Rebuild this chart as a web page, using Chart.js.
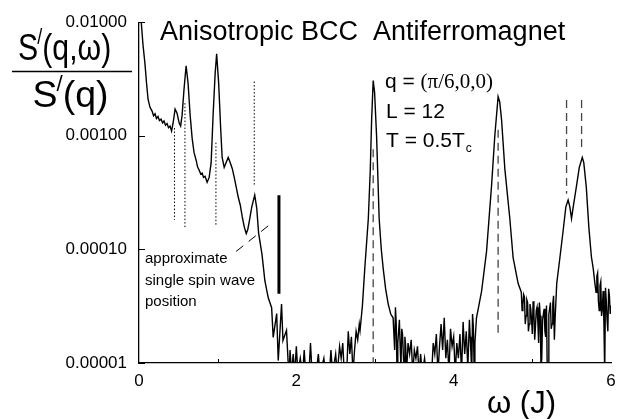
<!DOCTYPE html>
<html>
<head>
<meta charset="utf-8">
<script src="https://cdn.jsdelivr.net/npm/chart.js@4.4.1/dist/chart.umd.min.js"></script>
<style>
  html, body { margin: 0; padding: 0; background: #fff; }
  #wrap { width: 625px; height: 419px; }
</style>
</head>
<body>
<div id="wrap"><canvas id="spectrum"></canvas></div>
<script>
// spectrum S'(q,w)/S'(q) (values under 1e-5 sit on the bottom axis)
const omega = [
  0.02, 0.05, 0.076, 0.096, 0.115, 0.14, 0.166, 0.185, 0.204, 0.222, 0.242, 0.26, 0.28, 0.30, 0.318, 0.337,
  0.357, 0.375, 0.395, 0.414, 0.433, 0.459, 0.484, 0.51, 0.529, 0.548, 0.573, 0.599, 0.624, 0.65, 0.675, 0.70,
  0.726, 0.745, 0.764, 0.785, 0.803, 0.82, 0.84, 0.866, 0.892, 0.917, 0.943, 0.968, 0.987, 1.013, 1.038, 1.057,
  1.083, 1.108, 1.134, 1.159, 1.185, 1.21, 1.236, 1.261, 1.287, 1.312, 1.338, 1.363, 1.382, 1.401, 1.433, 1.471,
  1.497, 1.52, 1.563, 1.583, 1.60, 1.643, 1.686, 1.706, 1.75, 1.77, 1.812, 1.83, 1.875, 1.895, 1.91, 1.92,
  1.94, 1.96, 1.98, 2.00, 2.02, 2.05, 2.08, 2.10, 2.12, 2.16, 2.18, 2.20, 2.25, 2.28, 2.30, 2.35,
  2.37, 2.42, 2.44, 2.46, 2.50, 2.52, 2.55, 2.57, 2.59, 2.61, 2.64, 2.66, 2.68, 2.70, 2.72, 2.74,
  2.76, 2.78, 2.80, 2.81, 2.84, 2.87, 2.915, 2.94, 2.957, 2.977, 2.995, 3.02, 3.053, 3.08, 3.104, 3.135,
  3.168, 3.20, 3.23, 3.25, 3.26, 3.27, 3.28, 3.29, 3.30, 3.31, 3.32, 3.33, 3.34, 3.35, 3.36, 3.37,
  3.38, 3.39, 3.40, 3.42, 3.44, 3.46, 3.48, 3.50, 3.52, 3.54, 3.56, 3.58, 3.60, 3.63, 3.65, 3.70,
  3.72, 3.74, 3.76, 3.78, 3.80, 3.82, 3.84, 3.86, 3.88, 3.90, 3.92, 3.94, 3.96, 3.98, 4.00, 4.02,
  4.04, 4.06, 4.08, 4.10, 4.12, 4.14, 4.16, 4.18, 4.20, 4.21, 4.22, 4.23, 4.24, 4.25, 4.26, 4.27,
  4.29, 4.32, 4.355, 4.418, 4.482, 4.523, 4.565, 4.585, 4.609, 4.651, 4.714, 4.756, 4.82, 4.86, 4.87, 4.88,
  4.89, 4.90, 4.91, 4.92, 4.93, 4.94, 4.95, 4.96, 4.97, 4.98, 4.99, 5.00, 5.01, 5.02, 5.03, 5.04,
  5.05, 5.06, 5.07, 5.08, 5.09, 5.10, 5.11, 5.12, 5.13, 5.14, 5.15, 5.16, 5.17, 5.18, 5.19, 5.20,
  5.21, 5.22, 5.23, 5.24, 5.25, 5.26, 5.27, 5.28, 5.29, 5.31, 5.35, 5.39, 5.426, 5.455, 5.477, 5.498,
  5.52, 5.559, 5.597, 5.635, 5.654, 5.686, 5.718, 5.75, 5.775, 5.794, 5.81, 5.82, 5.83, 5.84, 5.85, 5.86,
  5.87, 5.88, 5.89, 5.90, 5.91, 5.92, 5.93, 5.94, 5.95, 5.96, 5.97, 5.98, 5.99, 6.00
];
const intensity = [
  1.2e-2, 6.4e-3, 4.3e-3, 2.9e-3, 2.1e-3, 1.78e-3, 1.65e-3, 1.50e-3, 1.56e-3, 1.42e-3, 1.48e-3, 1.36e-3, 1.40e-3, 1.30e-3, 1.35e-3, 1.24e-3,
  1.28e-3, 1.18e-3, 1.22e-3, 1.10e-3, 1.29e-3, 1.72e-3, 1.58e-3, 1.30e-3, 1.22e-3, 1.52e-3, 2.61e-3, 4.14e-3, 2.89e-3, 1.52e-3, 9.6e-4, 7.1e-4,
  6.1e-4, 5.3e-4, 5.0e-4, 4.6e-4, 4.7e-4, 4.3e-4, 4.4e-4, 3.9e-4, 4.3e-4, 5.8e-4, 1.58e-3, 3.53e-3, 5.27e-3, 2.88e-3, 1.17e-3, 6.45e-4,
  5.27e-4, 5.82e-4, 6.45e-4, 5.82e-4, 5.16e-4, 4.32e-4, 3.53e-4, 2.89e-4, 2.46e-4, 1.94e-4, 1.58e-4, 1.38e-4, 1.49e-4, 1.75e-4, 2.36e-4, 3.01e-4,
  2.3e-4, 1.4e-4, 9.1e-5, 6.8e-5, 5.3e-5, 3.75e-5, 3.07e-5, 1.68e-5, 2.72e-5, 1.05e-5, 3.3e-5, 1.58e-5, 1.94e-5, 1.05e-5, 8e-6, 1.3e-5,
  8e-6, 1.2e-5, 8e-6, 1.4e-5, 8e-6, 1.1e-5, 8e-6, 1.3e-5, 8e-6, 8e-6, 1.5e-5, 8e-6, 8e-6, 1.2e-5, 8e-6, 1.1e-5,
  8e-6, 8e-6, 1.3e-5, 8e-6, 1.2e-5, 8e-6, 1.4e-5, 1.1e-5, 1.5e-5, 8e-6, 8e-6, 1.9e-5, 1.2e-5, 1.7e-5, 8e-6, 1.3e-5,
  1.9e-5, 1.6e-5, 2.2e-5, 1.94e-5, 3.2e-5, 6.8e-5, 1.86e-4, 5.0e-4, 1.38e-3, 3.07e-3, 2.4e-3, 1.0e-3, 1.86e-4, 1.0e-4, 6.8e-5, 4.5e-5,
  3.3e-5, 2.7e-5, 2.5e-5, 1.3e-5, 3.1e-5, 2.2e-5, 8e-6, 1.5e-5, 1.9e-5, 2.4e-5, 1.4e-5, 9e-6, 2.0e-5, 1.8e-5, 1.2e-5, 8e-6,
  1.7e-5, 1.4e-5, 8e-6, 1.5e-5, 1.2e-5, 1.6e-5, 8e-6, 1.3e-5, 1.1e-5, 1.4e-5, 8e-6, 1.2e-5, 8e-6, 1.1e-5, 8e-6, 8e-6,
  8e-6, 1.5e-5, 1.2e-5, 1.8e-5, 8e-6, 1.4e-5, 2.2e-5, 1.3e-5, 2.5e-5, 1.1e-5, 1.6e-5, 8e-6, 2.0e-5, 1.4e-5, 1.7e-5, 8e-6,
  1.5e-5, 1.1e-5, 1.8e-5, 8e-6, 2.3e-5, 1.2e-5, 1.9e-5, 9e-6, 2.4e-5, 1.7e-5, 1.2e-5, 8e-6, 2.7e-5, 2.1e-5, 9e-6, 1.5e-5,
  2.5e-5, 3.2e-5, 4.3e-5, 9.6e-5, 3.67e-4, 1.0e-3, 2.21e-3, 2.0e-3, 1.38e-3, 5.06e-4, 1.86e-4, 8.4e-5, 5.0e-5, 4.2e-5, 2.9e-5, 3.3e-5,
  4.0e-5, 3.8e-5, 2.2e-5, 2.6e-5, 3.6e-5, 3.4e-5, 1.9e-5, 2.2e-5, 3.3e-5, 3.0e-5, 2.4e-5, 1.8e-5, 3.5e-5, 2.8e-5, 1.6e-5, 2.1e-5,
  2.9e-5, 3.1e-5, 2.3e-5, 1.5e-5, 3.4e-5, 2.6e-5, 9e-6, 1.1e-5, 2.4e-5, 2.7e-5, 3.0e-5, 1.9e-5, 1.7e-5, 3.2e-5, 8e-6, 8e-6,
  2.7e-5, 3.0e-5, 3.4e-5, 2.0e-5, 2.2e-5, 3.3e-5, 3.9e-5, 1.6e-5, 2.5e-5, 5.0e-5, 8.4e-5, 1.43e-4, 2.37e-4, 2.72e-4, 2.37e-4, 1.87e-4,
  2.37e-4, 3.53e-4, 5.27e-4, 6.44e-4, 5.8e-4, 3.53e-4, 1.58e-4, 8.7e-5, 6.7e-5, 5.1e-5, 4.2e-5, 5.8e-5, 6.2e-5, 3.5e-5, 2.9e-5, 4.8e-5,
  5.2e-5, 2.6e-5, 3.0e-5, 4.3e-5, 2.2e-5, 8e-6, 4.6e-5, 3.5e-5, 2.4e-5, 1.9e-5, 4.5e-5, 3.9e-5, 2.7e-5, 3.2e-5
];

// dotted markers (left part), dashed markers (peaks), solid bar
const dottedOmega = [0.451, 0.584, 0.978, 1.465];
const dottedTop = [1.17e-3, 1.94e-3, 8.7e-4, 3.0e-3];
const dottedBottom = [1.82e-4, 1.55e-4, 1.65e-4, 3.67e-4];
const dashedOmega = [2.977, 4.565, 5.435, 5.626];
const dashedTop = [7.6e-4, 1.13e-3, 2.07e-3, 2.07e-3];
const dashedBottom = [1e-5, 1.69e-5, 3.09e-4, 7.9e-4];
const barOmega = [1.779, 1.779];
const barValue = [3.0e-4, 4.07e-5];
const pointerOmega = [1.235, 1.707];
const pointerValue = [9.6e-5, 1.75e-4];

const xTicks = [0, 2, 4, 6];
const xMinorTicks = [1, 3, 5];
const yTicks = [1e-5, 1e-4, 1e-3, 1e-2];

const sans = '"Liberation Sans", Arial, sans-serif';
const serif = '"Liberation Serif", "Times New Roman", serif';

const vLine = (x, top, bottom, style) => ({
  data: [{ x: x, y: top }, { x: x, y: bottom }],
  borderColor: style.color,
  borderWidth: style.width,
  borderDash: style.dash,
  pointRadius: 0,
  order: 2
});

const datasets = [
  {
    data: omega.map((w, i) => ({ x: w, y: intensity[i] })),
    borderColor: '#000',
    borderWidth: 1.4,
    pointRadius: 0,
    tension: 0,
    order: 0
  }
];
dottedOmega.forEach((w, i) => datasets.push(vLine(w, dottedTop[i], dottedBottom[i], { color: '#000', width: 1, dash: [1.5, 2] })));
dashedOmega.forEach((w, i) => datasets.push(vLine(w, dashedTop[i], dashedBottom[i], { color: '#444', width: 1.3, dash: [8, 5] })));
datasets.push({
  data: barOmega.map((w, i) => ({ x: w, y: barValue[i] })),
  borderColor: '#000', borderWidth: 3, pointRadius: 0, order: 1
});
datasets.push({
  data: pointerOmega.map((w, i) => ({ x: w, y: pointerValue[i] })),
  borderColor: '#000', borderWidth: 1, borderDash: [9, 7], pointRadius: 0, order: 1
});

// texts, inward tick marks and the y title fraction
const decorations = {
  id: 'decorations',
  afterDraw(chart) {
    const ctx = chart.ctx;
    const xs = chart.scales.x, ys = chart.scales.y;
    const area = chart.chartArea;
    ctx.save();
    ctx.strokeStyle = '#000';
    ctx.lineWidth = 1;
    yTicks.forEach(v => {
      const y = Math.round(ys.getPixelForValue(v)) + 0.5;
      ctx.beginPath(); ctx.moveTo(area.left, y); ctx.lineTo(area.left + 6, y); ctx.stroke();
    });
    xMinorTicks.forEach(v => {
      const x = Math.round(xs.getPixelForValue(v)) + 0.5;
      ctx.beginPath(); ctx.moveTo(x, area.bottom); ctx.lineTo(x, area.bottom - 4); ctx.stroke();
    });

    ctx.fillStyle = '#000';
    ctx.textBaseline = 'alphabetic';
    ctx.textAlign = 'left';
    ctx.font = '27px ' + sans;
    ctx.fillText('Anisotropic BCC  Antiferromagnet', 160, 40);

    ctx.font = '21px ' + sans;
    ctx.fillText('q = ', 385, 88);
    const qw = ctx.measureText('q = ').width;
    ctx.font = '21px ' + serif;
    ctx.fillText('(\u03c0/6,0,0)', 385 + qw, 88);
    ctx.font = '21px ' + sans;
    ctx.fillText('L = 12', 386, 118);
    ctx.fillText('T = 0.5T', 386, 147);
    const tw = ctx.measureText('T = 0.5T').width;
    ctx.font = '12px ' + sans;
    ctx.fillText('c', 386 + tw + 1, 152);

    ctx.font = '15px ' + sans;
    ctx.fillText('approximate', 145, 263);
    ctx.fillText('single spin wave', 145, 285);
    ctx.fillText('position', 145, 306);

    ctx.font = '31px ' + sans;
    ctx.fillText('\u03c9 (J)', 487, 413);

    // y title: S'(q,w) over S'(q)
    const drawPrimed = (rest, cx, base, target) => {
      ctx.font = '37px ' + sans;
      const sW = ctx.measureText('S').width;
      const rW = ctx.measureText(rest).width;
      ctx.font = '22px ' + sans;
      const pW = ctx.measureText('/').width;
      const total = sW + pW + rW;
      const k = target / total;
      ctx.save();
      ctx.translate(cx - target / 2, base);
      ctx.scale(k, 1);
      ctx.font = '37px ' + sans;
      ctx.fillText('S', 0, 0);
      ctx.font = '22px ' + sans;
      ctx.fillText('/', sW - 1, -16);
      ctx.font = '37px ' + sans;
      ctx.fillText(rest, sW + pW - 1, 0);
      ctx.restore();
    };
    drawPrimed('(q,\u03c9)', 65, 60, 94);
    drawPrimed('(q)', 71, 107, 77);
    ctx.lineWidth = 1.5;
    ctx.beginPath(); ctx.moveTo(12, 71.5); ctx.lineTo(132, 71.5); ctx.stroke();
    ctx.restore();
  }
};

new Chart(document.getElementById('spectrum').getContext('2d'), {
  type: 'line',
  data: { datasets: datasets },
  options: {
    responsive: true,
    maintainAspectRatio: false,
    animation: false,
    events: [],
    layout: { padding: { top: 18, right: 14, bottom: 0, left: 0 } },
    plugins: { legend: { display: false }, tooltip: { enabled: false } },
    scales: {
      x: {
        type: 'linear',
        min: 0,
        max: 6,
        afterFit: s => { s.height = 56; },
        afterBuildTicks: s => { s.ticks = xTicks.map(v => ({ value: v })); },
        grid: { display: false, drawTicks: false },
        border: { display: true, color: '#000', width: 1.3 },
        ticks: { color: '#000', font: { family: sans, size: 17 }, padding: 8, maxRotation: 0 }
      },
      y: {
        type: 'logarithmic',
        min: 1e-5,
        max: 1e-2,
        afterFit: s => { s.width = 139; },
        afterBuildTicks: s => { s.ticks = yTicks.map(v => ({ value: v })); },
        grid: { display: false, drawTicks: false },
        border: { display: true, color: '#000', width: 1.3 },
        ticks: { color: '#000', font: { family: sans, size: 17 }, padding: 12, callback: v => Number(v).toFixed(5) }
      }
    }
  },
  plugins: [decorations]
});
</script>
</body>
</html>
